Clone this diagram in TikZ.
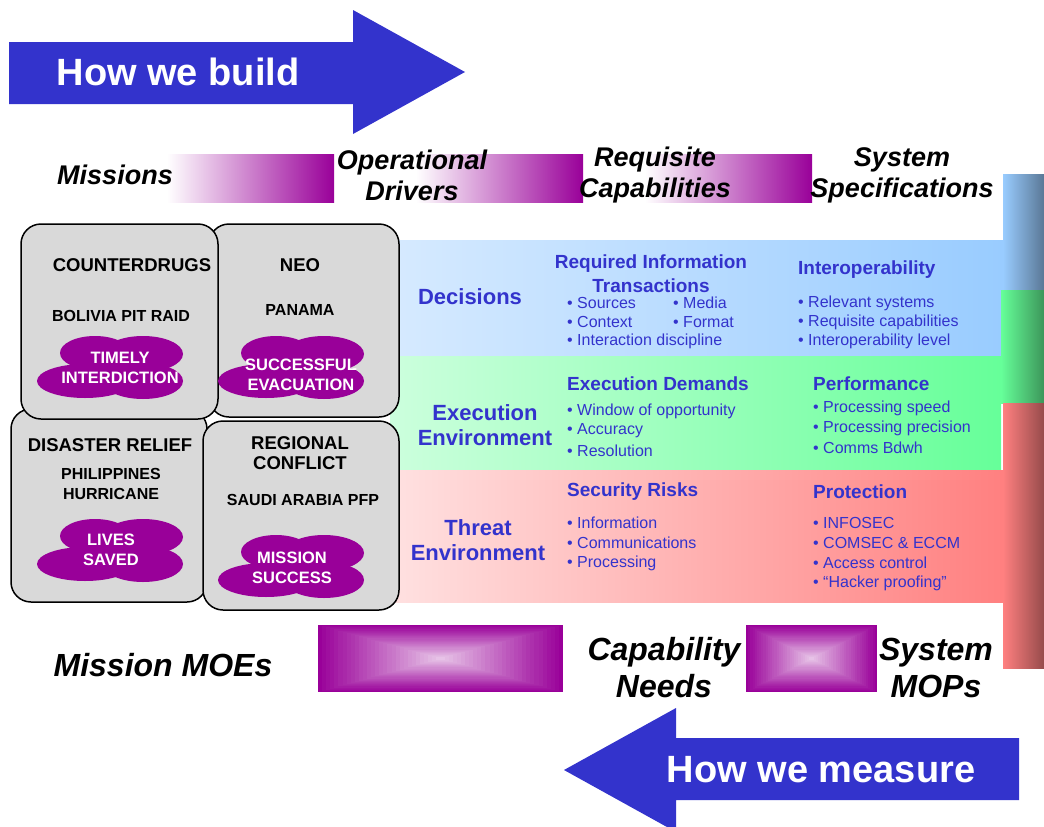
\documentclass[tikz,border=0pt]{standalone}
\usepackage{fontspec}
\setmainfont{Liberation Sans}
\usepackage{xcolor}

\definecolor{mblue}{RGB}{51,51,204}
\definecolor{mpurple}{RGB}{153,0,153}
\definecolor{boxgray}{RGB}{217,217,217}
\definecolor{bluelo}{RGB}{214,234,255}
\definecolor{bluehi}{RGB}{153,204,255}
\definecolor{bluedk}{RGB}{90,120,150}
\definecolor{greenlo}{RGB}{204,255,221}
\definecolor{greenhi}{RGB}{102,255,153}
\definecolor{greendk}{RGB}{60,150,90}
\definecolor{redlo}{RGB}{255,225,225}
\definecolor{redhi}{RGB}{255,128,128}
\definecolor{reddk}{RGB}{150,75,75}

\tikzset{
  blob/.pic={
    \fill[mpurple] (-15,-15) ellipse [x radius=35, y radius=17];
    \fill[mpurple] (33,-14) ellipse [x radius=40, y radius=18];
    \fill[mpurple] (-25,13) ellipse [x radius=48, y radius=17];
    \fill[mpurple] (33,13) ellipse [x radius=40, y radius=18];
    \fill[mpurple] (-40,-6) rectangle (55,8);
  }
}

\begin{document}
\begin{tikzpicture}[x=1pt, y=-1pt,
    arrowtext/.style={font=\fontsize{38}{44}\selectfont\bfseries, text=white, inner sep=0pt},
    headlabel/.style={font=\fontsize{27}{31}\selectfont\bfseries\itshape, align=center, inner sep=0pt},
    measurelabel/.style={font=\fontsize{32}{37}\selectfont\bfseries\itshape, align=center, inner sep=0pt},
    missionbox/.style={draw=black, line width=1.5pt, fill=boxgray, rounded corners=20pt},
    boxtitle/.style={font=\fontsize{18.5}{20}\selectfont\bfseries, align=center, inner sep=0pt},
    boxsub/.style={font=\fontsize{16}{20}\selectfont\bfseries, align=center, inner sep=0pt},
    cloudtext/.style={font=\fontsize{16.5}{20}\selectfont\bfseries, text=white, align=center, inner sep=0pt},
    bandlabel/.style={font=\fontsize{22}{25}\selectfont\bfseries, text=mblue, align=center, inner sep=0pt},
    colhead/.style={font=\fontsize{19}{24}\selectfont\bfseries, text=mblue, align=center, inner sep=0pt},
    item/.style={font=\fontsize{16}{20}\selectfont, text=mblue, anchor=west, inner sep=0pt}
  ]

  \clip (0,0) rectangle (1044,827);

  % How we build
  \fill[mblue] (9,42) -- (353,42) -- (353,10) -- (465,72) -- (353,134) -- (353,104) -- (9,104) -- cycle;
  \node[arrowtext] (build) at (178,72) {How we build};

  % Header bars
  \foreach \xa/\xb in {167/334, 416/583, 645/812}
    \shade[left color=white, middle color=mpurple!22!white, right color=mpurple] (\xa,154) rectangle (\xb,202);

  \node[headlabel] (missions) at (115,175) {Missions};
  \node[headlabel] (drivers) at (412,175) {Operational\\Drivers};
  \node[headlabel] (capab) at (655,175) {Requisite\\Capabilities};
  \node[headlabel] (specs) at (902,175) {System\\Specifications};

  % Bands
  \shade[left color=bluelo, right color=bluehi] (390,240) rectangle (1003,356);
  \shade[left color=greenlo, right color=greenhi] (390,356) rectangle (1001,470);
  \shade[left color=redlo, right color=redhi] (390,470) rectangle (1003,602);

  % Right bar
  \shade[left color=bluehi, right color=bluedk] (1003,174) rectangle (1044,290);
  \shade[left color=greenhi, right color=greendk] (1001,290) rectangle (1044,403);
  \shade[left color=redhi, right color=reddk] (1003,403) rectangle (1044,668);

  % Mission boxes
  \foreach \xa/\ya/\xb/\yb in {11/409/207/602, 203/421/399/610, 209/224/399/417, 21/224/218/419}
    \draw[missionbox] (\xa,\ya) rectangle (\xb,\yb);

  \foreach \cx/\cy in {110/368, 291/368, 110/551, 291/567}
    \pic at (\cx,\cy) {blob};

  \node[boxtitle] (drugs) at (132,265) {COUNTERDRUGS};
  \node[boxsub] (bolivia) at (121,316) {BOLIVIA PIT RAID};
  \node[cloudtext] (timely) at (120,368) {TIMELY\\INTERDICTION};

  \node[boxtitle] (neo) at (300,265) {NEO};
  \node[boxsub] (panama) at (300,310) {PANAMA};
  \node[cloudtext] (evac) at (301,375) {SUCCESSFUL\\EVACUATION};

  \node[boxtitle] (relief) at (110,445) {DISASTER RELIEF};
  \node[boxsub] (phil) at (111,484) {PHILIPPINES\\HURRICANE};
  \node[cloudtext] (lives) at (111,550) {LIVES\\SAVED};

  \node[boxtitle] (conflict) at (300,453) {REGIONAL\\CONFLICT};
  \node[boxsub] (saudi) at (303,500) {SAUDI ARABIA PFP};
  \node[cloudtext] (success) at (292,568) {MISSION\\SUCCESS};

  % Band labels
  \node[bandlabel] (decisions) at (470,297) {Decisions};
  \node[bandlabel] (execenv) at (485,425) {Execution\\Environment};
  \node[bandlabel] (threatenv) at (478,540) {Threat\\Environment};

  % Decisions row
  \node[colhead] (reqinfo) at (651,274) {Required Information\\Transactions};
  \foreach \t [count=\i] in {Sources, Context, Interaction discipline}
    \node[item] (src\i) at (567,284+19*\i) {• \t};
  \foreach \t [count=\i] in {Media, Format}
    \node[item] (med\i) at (673,284+19*\i) {• \t};
  \node[colhead, anchor=west] (interop) at (798,270) {Interoperability};
  \foreach \t [count=\i] in {Relevant systems, Requisite capabilities, Interoperability level}
    \node[item] (rel\i) at (798,284+19*\i) {• \t};

  % Execution row
  \node[colhead, anchor=west] (demands) at (567,384) {Execution Demands};
  \foreach \t [count=\i] in {Window of opportunity, Accuracy, Resolution}
    \node[item] (win\i) at (567,391+20*\i) {• \t};
  \node[colhead, anchor=west] (perf) at (813,384) {Performance};
  \foreach \t [count=\i] in {Processing speed, Processing precision, Comms Bdwh}
    \node[item] (proc\i) at (813,388+20*\i) {• \t};

  % Threat row
  \node[colhead, anchor=west] (risks) at (567,492) {Security Risks};
  \foreach \t [count=\i] in {Information, Communications, Processing}
    \node[item] (info\i) at (567,503+20*\i) {• \t};
  \node[colhead, anchor=west] (protect) at (813,492) {Protection};
  \foreach \t [count=\i] in {INFOSEC, COMSEC \& ECCM, Access control, “Hacker proofing”}
    \node[item] (sec\i) at (813,503+20*\i) {• \t};

  % Measure boxes
  \foreach \xa/\ya/\xb/\yb in {318/625/563/692, 746/625/877/692}
    \foreach \i in {0,...,29} {
      \pgfmathtruncatemacro\m{100-\i*2.6}
      \fill[mpurple!\m!white] ({\xa+\i*(\xb-\xa)/60},{\ya+\i*(\yb-\ya)/60})
        rectangle ({\xb-\i*(\xb-\xa)/60},{\yb-\i*(\yb-\ya)/60});
    }

  \node[measurelabel] (moes) at (163,665) {Mission MOEs};
  \node[measurelabel] (needs) at (664,668) {Capability\\Needs};
  \node[measurelabel] (mops) at (936,668) {System\\MOPs};

  % How we measure
  \fill[mblue] (1019,738) -- (676,738) -- (676,708) -- (564,770) -- (676,832) -- (676,800) -- (1019,800) -- cycle;
  \node[arrowtext] (measure) at (821,770) {How we measure};

\end{tikzpicture}
\end{document}
